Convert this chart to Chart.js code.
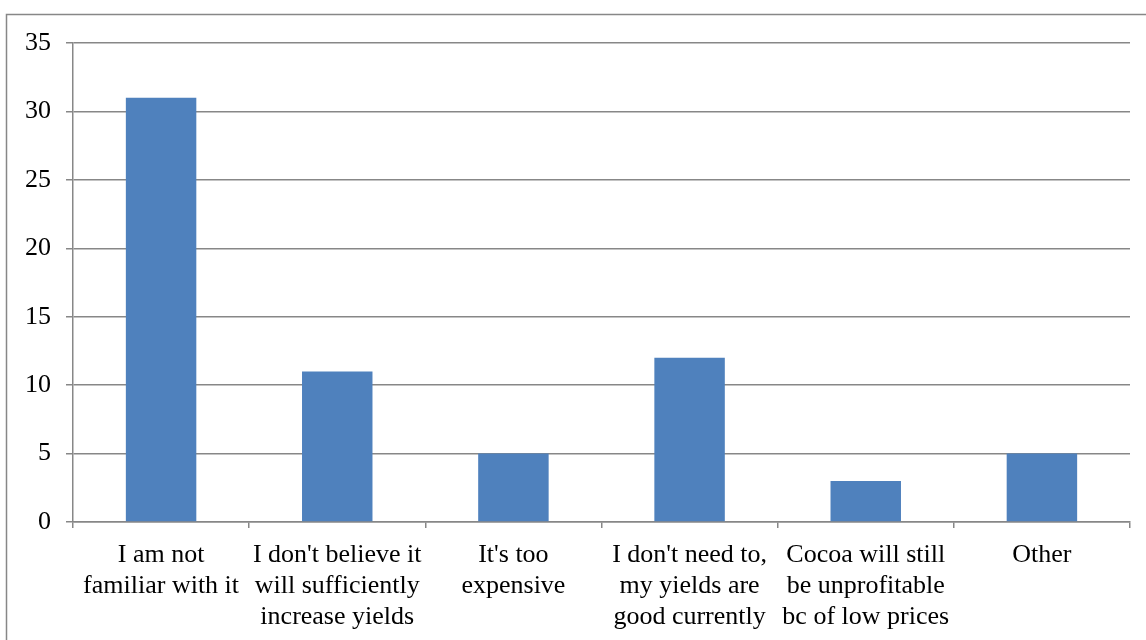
<!DOCTYPE html>
<html>
<head>
<meta charset="utf-8">
<script src="https://cdn.jsdelivr.net/npm/chart.js@4.4.1/dist/chart.umd.min.js"></script>
<style>
  html, body { margin: 0; padding: 0; background: #fff; }
  #wrap { position: absolute; left: 0; top: 0; width: 1146px; height: 640px; }
</style>
</head>
<body>
<div id="wrap"><canvas id="c" width="1146" height="640"></canvas></div>
<script>
const categories = [
  ["I am not", "familiar with it"],
  ["I don't believe it", "will sufficiently", "increase yields"],
  ["It's too", "expensive"],
  ["I don't need to,", "my yields are", "good currently"],
  ["Cocoa will still", "be unprofitable", "bc of low prices"],
  ["Other"]
];
const responses = [31, 11, 5, 12, 3, 5];
const yTicks = [0, 5, 10, 15, 20, 25, 30, 35];

const gray = '#878787';
const font = { family: '"Liberation Serif", "Times New Roman", serif', size: 26, lineHeight: 1.18 };

// Outer frame around the chart
const framePlugin = {
  id: 'frame',
  beforeDraw(chart) {
    const ctx = chart.ctx;
    ctx.save();
    ctx.fillStyle = '#fff';
    ctx.fillRect(0, 0, chart.width, chart.height);
    ctx.strokeStyle = gray;
    ctx.lineWidth = 1.5;
    ctx.strokeRect(6.5, 14.5, chart.width + 10, chart.height + 10);
    ctx.restore();
  }
};

new Chart(document.getElementById('c'), {
  type: 'bar',
  data: {
    labels: categories,
    datasets: [{
      data: responses,
      backgroundColor: '#4F81BD',
      borderWidth: 0,
      barPercentage: 0.4,
      categoryPercentage: 1.0
    }]
  },
  options: {
    responsive: false,
    animation: false,
    devicePixelRatio: 1,
    layout: { padding: { left: 0, right: 16, top: 43, bottom: 0 } },
    plugins: { legend: { display: false }, tooltip: { enabled: false } },
    scales: {
      x: {
        offset: true,
        afterFit(scale) { scale.height = 118; },
        grid: {
          offset: true,
          drawOnChartArea: false,
          drawTicks: true,
          tickLength: 6,
          color: gray,
          lineWidth: 1.5
        },
        border: { display: true, color: gray, width: 1.5 },
        ticks: {
          color: '#000',
          font: font,
          padding: 12,
          maxRotation: 0,
          autoSkip: false
        }
      },
      y: {
        min: 0,
        max: 35,
        afterBuildTicks(axis) { axis.ticks = yTicks.map(v => ({ value: v })); },
        afterFit(scale) { scale.width = 73; },
        grid: {
          color: gray,
          lineWidth: 1.5,
          tickLength: 7,
          drawTicks: true
        },
        border: { display: true, color: gray, width: 1.5 },
        ticks: {
          color: '#000',
          font: font,
          padding: 15
        }
      }
    }
  },
  plugins: [framePlugin]
});
</script>
</body>
</html>
